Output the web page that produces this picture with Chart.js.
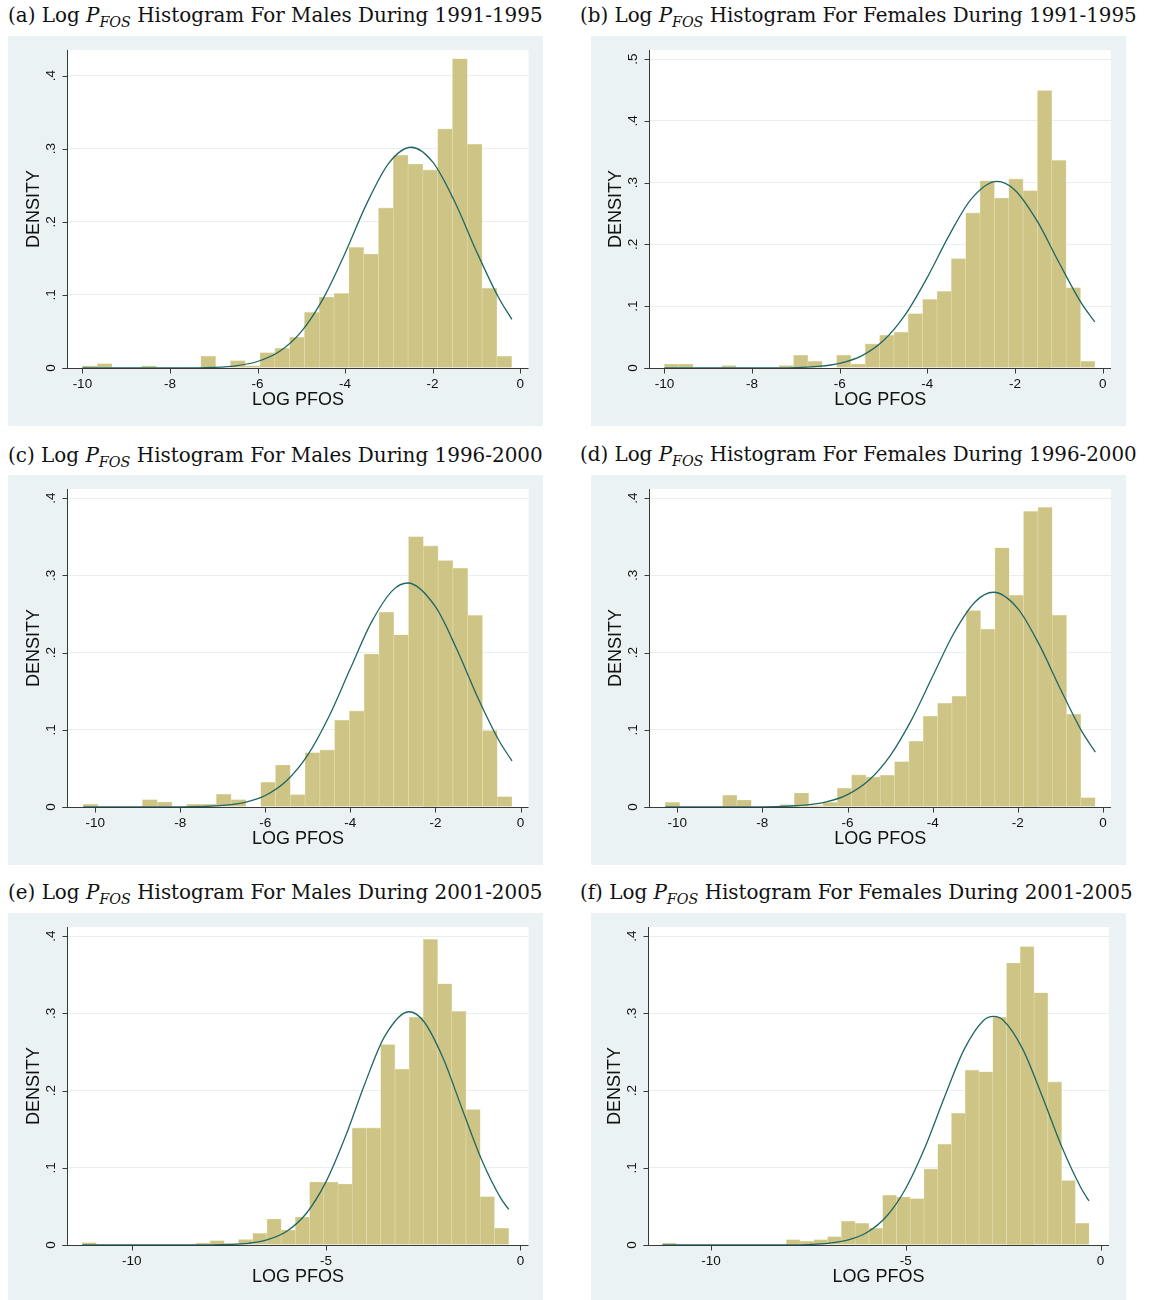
<!DOCTYPE html>
<html>
<head>
<meta charset="utf-8">
<script src="https://cdn.jsdelivr.net/npm/chart.js@4.4.1/dist/chart.umd.min.js"></script>
<style>
  body { margin: 0; background: #ffffff; width: 1152px; height: 1300px; position: relative; overflow: hidden; }
  .title { position: absolute; font-family: "DejaVu Serif", serif; font-size: 17px; line-height: 20px; white-space: nowrap; color: #111; }
  .title i { font-style: italic; }
  .title sub { font-size: 0.72em; font-style: italic; vertical-align: -0.35em; line-height: 0; }
  .panel { position: absolute; width: 535px; height: 390px; background: #eaf2f3; overflow: hidden; }
  .panel canvas { display: block; }
</style>
</head>
<body>
<script>
// ---- Histogram densities (bin heights, left to right) ----
const males9195 = [0.003, 0.006, 0, 0, 0.003, 0, 0, 0, 0.016, 0, 0.010, 0.003, 0.021, 0.027, 0.042,
  0.076, 0.097, 0.102, 0.165, 0.156, 0.219, 0.291, 0.279, 0.271, 0.327, 0.423, 0.306, 0.109, 0.016];
const females9195 = [0.0065, 0.0065, 0, 0, 0.004, 0, 0, 0, 0.004, 0.0205, 0.011, 0, 0.0205, 0.0065, 0.039,
  0.053, 0.058, 0.088, 0.111, 0.124, 0.177, 0.251, 0.303, 0.275, 0.306, 0.287, 0.449, 0.336, 0.130, 0.011];
const males9600 = [0.0035, 0, 0, 0, 0.0095, 0.0065, 0, 0.0035, 0.0035, 0.0164, 0.0095, 0, 0.032, 0.0544, 0.016,
  0.0704, 0.0739, 0.1123, 0.1244, 0.198, 0.252, 0.223, 0.350, 0.338, 0.319, 0.309, 0.248, 0.099, 0.0134];
const females9600 = [0.006, 0, 0, 0, 0.0151, 0.0091, 0, 0, 0.003, 0.0181, 0.002, 0.006, 0.0242, 0.0415, 0.039,
  0.041, 0.0587, 0.085, 0.1175, 0.1343, 0.1434, 0.2544, 0.2302, 0.3356, 0.2743, 0.3827, 0.3879, 0.2484, 0.1201, 0.0121];
const males0105 = [0.003, 0, 0, 0, 0, 0, 0, 0, 0.0026, 0.0056, 0.002, 0.007, 0.015, 0.0337, 0.0194,
  0.0363, 0.0816, 0.0816, 0.079, 0.1516, 0.1516, 0.2596, 0.2276, 0.295, 0.3957, 0.3382, 0.3024, 0.1754, 0.0626, 0.0216];
const females0105 = [0.0026, 0, 0, 0, 0, 0, 0, 0, 0, 0.0069, 0.0048, 0.0069, 0.0108, 0.0307, 0.0281, 0.0216,
  0.0644, 0.0622, 0.06, 0.0985, 0.1305, 0.1706, 0.2263, 0.2242, 0.295, 0.365, 0.3862, 0.3266, 0.2112, 0.0834, 0.0281];

// ---- Range of log PFOS covered by each histogram [first bin start, last bin end] ----
const binRange9195m = [-10.0, -0.193];
const binRange9195f = [-10.0, -0.178];
const binRange9600m = [-10.278, -0.199];
const binRange9600f = [-10.278, -0.183];
const binRange0105m = [-11.274, -0.304];
const binRange0105f = [-11.249, -0.295];

// ---- Fitted normal density, sampled along log PFOS ----
const normX9195m = [-10, -9, -8, -7, -6.5, -6, -5.5, -5, -4.5, -4, -3.5, -3, -2.49, -2, -1.5, -1, -0.5, -0.19];
const normY9195m = [0, 0, 0.00005, 0.0009, 0.003, 0.0089, 0.0225, 0.0497, 0.0949, 0.1571, 0.2255, 0.2803, 0.302, 0.2819, 0.2281, 0.1598, 0.0971, 0.0664];
const normX9195f = [-10, -9, -8, -7, -6.5, -6, -5.5, -5, -4.5, -4, -3.5, -3, -2.41, -2, -1.5, -1, -0.5, -0.18];
const normY9195f = [0, 0, 0.00004, 0.0007, 0.0025, 0.0076, 0.0197, 0.0444, 0.0867, 0.1467, 0.2151, 0.2734, 0.302, 0.2878, 0.2384, 0.1711, 0.1065, 0.0745];
const normX9600m = [-10.28, -9, -8, -7, -6.5, -6, -5.5, -5, -4.5, -4, -3.5, -3, -2.65, -2, -1.5, -1, -0.5, -0.2];
const normY9600m = [0, 0.00001, 0.00015, 0.002, 0.0058, 0.0149, 0.0339, 0.0674, 0.1174, 0.1792, 0.2396, 0.2808, 0.290, 0.2593, 0.2045, 0.1412, 0.0855, 0.0596];
const normX9600f = [-10.28, -9, -8, -7, -6.5, -6, -5.5, -5, -4.5, -4, -3.5, -3, -2.57, -2, -1.5, -1, -0.5, -0.18];
const normY9600f = [0, 0.00001, 0.00022, 0.0024, 0.0065, 0.016, 0.0346, 0.0663, 0.1125, 0.1692, 0.2253, 0.2658, 0.278, 0.2569, 0.2105, 0.1528, 0.0982, 0.071];
const normX0105m = [-11.27, -10, -9, -8, -7.5, -7, -6.5, -6, -5.5, -5, -4.5, -4, -3.5, -2.87, -2.5, -2, -1.5, -1, -0.5, -0.3];
const normY0105m = [0, 0, 0.00001, 0.00016, 0.00064, 0.0022, 0.0069, 0.0181, 0.0414, 0.082, 0.1407, 0.2092, 0.2694, 0.302, 0.2903, 0.243, 0.1761, 0.1105, 0.0601, 0.0460];
const normX0105f = [-11.25, -10, -9, -8, -7.5, -7, -6.5, -6, -5.5, -5, -4.5, -4, -3.5, -3, -2.75, -2.5, -2, -1.5, -1, -0.5, -0.3];
const normY0105f = [0, 0, 0.00001, 0.00015, 0.0006, 0.0021, 0.0062, 0.0162, 0.0369, 0.0735, 0.1274, 0.1926, 0.2536, 0.291, 0.296, 0.291, 0.2536, 0.1926, 0.1274, 0.0735, 0.0572];

// ---- Axis ticks ----
const xTicksBy2 = [-10, -8, -6, -4, -2, 0];
const xTicksBy5 = [-10, -5, 0];
const yTicksTo4 = [0, 0.1, 0.2, 0.3, 0.4];
const yTicksTo5 = [0, 0.1, 0.2, 0.3, 0.4, 0.5];

// ---- Panel text ----
const panelLetters = ['a', 'b', 'c', 'd', 'e', 'f'];
const panelSex = ['Males', 'Females', 'Males', 'Females', 'Males', 'Females'];
const panelPeriods = ['1991-1995', '1991-1995', '1996-2000', '1996-2000', '2001-2005', '2001-2005'];
const xAxisTitle = 'LOG PFOS';
const yAxisTitle = 'DENSITY';

// ---- Page layout ----
const layout = [
  { box: [8, 36],   title: [8, 6, 535],    plot: [59.5, 520.5], x: [-10.34, 0.19],  yMax: 0.435 },
  { box: [591, 36], title: [580, 6, 557],  plot: [58.5, 520],   x: [-10.34, 0.19],  yMax: 0.5146 },
  { box: [8, 475],  title: [8, 445, 535],  plot: [59.5, 520.5], x: [-10.65, 0.188], yMax: 0.4117 },
  { box: [591, 475],title: [580, 445, 557],plot: [58.5, 520],   x: [-10.65, 0.188], yMax: 0.4117 },
  { box: [8, 913],  title: [8, 883, 535],  plot: [59.5, 520.5], x: [-11.65, 0.206], yMax: 0.4117 },
  { box: [591, 913],title: [580, 883, 553],plot: [57, 518],     x: [-11.62, 0.215], yMax: 0.4117 }
];
const PLOT_TOP = 14, PLOT_BOTTOM = 332, BOX_W = 535, BOX_H = 390;

const series = [
  { h: males9195,   r: binRange9195m, nx: normX9195m, ny: normY9195m, xt: xTicksBy2, yt: yTicksTo4 },
  { h: females9195, r: binRange9195f, nx: normX9195f, ny: normY9195f, xt: xTicksBy2, yt: yTicksTo5 },
  { h: males9600,   r: binRange9600m, nx: normX9600m, ny: normY9600m, xt: xTicksBy2, yt: yTicksTo4 },
  { h: females9600, r: binRange9600f, nx: normX9600f, ny: normY9600f, xt: xTicksBy2, yt: yTicksTo4 },
  { h: males0105,   r: binRange0105m, nx: normX0105m, ny: normY0105m, xt: xTicksBy5, yt: yTicksTo4 },
  { h: females0105, r: binRange0105f, nx: normX0105f, ny: normY0105f, xt: xTicksBy5, yt: yTicksTo4 }
];

const BAR_FILL = '#cdc486';
const BAR_EDGE = '#e4e0b0';
const CURVE = '#1f6764';
const GRID = '#e7eff1';
const AXIS = '#3a3a3a';
const SANS = '"Liberation Sans", Arial, sans-serif';

// White plot region behind the marks
const plotBackground = {
  id: 'plotBackground',
  beforeDraw(chart) {
    const { ctx, chartArea: a } = chart;
    ctx.save();
    ctx.fillStyle = '#ffffff';
    ctx.fillRect(a.left, a.top, a.right - a.left, a.bottom - a.top);
    ctx.restore();
  }
};

// Axis lines, outward tick marks, rotated y labels and axis titles
const stataAxes = {
  id: 'stataAxes',
  afterDatasetsDraw(chart) {
    const { ctx, chartArea: a, scales: { x, y } } = chart;
    const L = Math.floor(a.left) + 0.5;
    const B = Math.round(a.bottom) + 0.5;
    ctx.save();
    ctx.strokeStyle = AXIS;
    ctx.lineWidth = 1;
    ctx.beginPath();
    ctx.moveTo(L, a.top); ctx.lineTo(L, B);
    ctx.moveTo(L - 5, B); ctx.lineTo(a.right, B);
    y.ticks.forEach(t => {
      const py = Math.round(y.getPixelForValue(t.value)) + 0.5;
      ctx.moveTo(L - 5, py); ctx.lineTo(L, py);
    });
    x.ticks.forEach(t => {
      const px = Math.round(x.getPixelForValue(t.value)) + 0.5;
      ctx.moveTo(px, B); ctx.lineTo(px, B + 5);
    });
    ctx.stroke();

    ctx.fillStyle = '#111';
    ctx.font = '13.5px ' + SANS;
    ctx.textAlign = 'center';
    ctx.textBaseline = 'middle';
    x.ticks.forEach(t => {
      ctx.fillText(String(t.value), x.getPixelForValue(t.value), B + 15.5);
    });
    y.ticks.forEach(t => {
      const label = t.value === 0 ? '0' : String(t.value).replace(/^0/, '');
      ctx.save();
      ctx.translate(L - 16, y.getPixelForValue(t.value));
      ctx.rotate(-Math.PI / 2);
      ctx.fillText(label, 0, 0);
      ctx.restore();
    });

    ctx.font = '18px ' + SANS;
    ctx.fillText(xAxisTitle, (a.left + a.right) / 2, B + 31.5);
    ctx.save();
    ctx.translate(L - 33.5, (a.top + a.bottom) / 2);
    ctx.rotate(-Math.PI / 2);
    ctx.fillText(yAxisTitle, 0, 0);
    ctx.restore();
    ctx.restore();
  }
};

series.forEach((s, k) => {
  const lay = layout[k];

  const title = document.createElement('div');
  title.className = 'title';
  title.style.left = lay.title[0] + 'px';
  title.style.top = lay.title[1] + 'px';
  title.innerHTML = '(' + panelLetters[k] + ') Log <i>P</i><sub>FOS</sub> Histogram For ' +
    panelSex[k] + ' During ' + panelPeriods[k];
  document.body.appendChild(title);
  // fit the heading to its column width
  const w = title.getBoundingClientRect().width;
  title.style.fontSize = (17 * lay.title[2] / w).toFixed(2) + 'px';

  const box = document.createElement('div');
  box.className = 'panel';
  box.style.left = lay.box[0] + 'px';
  box.style.top = lay.box[1] + 'px';
  const canvas = document.createElement('canvas');
  canvas.width = BOX_W; canvas.height = BOX_H;
  box.appendChild(canvas);
  document.body.appendChild(box);

  const binW = (s.r[1] - s.r[0]) / s.h.length;
  const bars = s.h.map((v, i) => ({ x: s.r[0] + (i + 0.5) * binW, y: v }));
  const curve = s.nx.map((v, i) => ({ x: v, y: s.ny[i] }));

  new Chart(canvas, {
    type: 'bar',
    data: {
      datasets: [
        {
          type: 'line', data: curve, order: 0,
          borderColor: CURVE, borderWidth: 1.3, pointRadius: 0,
          cubicInterpolationMode: 'monotone', fill: false
        },
        {
          type: 'bar', data: bars, order: 1,
          backgroundColor: BAR_FILL, borderColor: BAR_EDGE, borderWidth: 0.6,
          barPercentage: 1, categoryPercentage: 1, grouped: false
        }
      ]
    },
    options: {
      responsive: false, animation: false, devicePixelRatio: 1,
      layout: { padding: { top: PLOT_TOP, right: BOX_W - lay.plot[1], left: 0, bottom: 0 } },
      plugins: { legend: { display: false }, tooltip: { enabled: false } },
      scales: {
        x: {
          type: 'linear', min: lay.x[0], max: lay.x[1], offset: false,
          grid: { display: false, drawTicks: false }, border: { display: false },
          ticks: { display: false },
          afterBuildTicks: sc => { sc.ticks = s.xt.map(v => ({ value: v })); },
          afterFit: sc => { sc.height = BOX_H - PLOT_BOTTOM; }
        },
        y: {
          type: 'linear', min: 0, max: lay.yMax,
          grid: { color: GRID, lineWidth: 1, drawTicks: false }, border: { display: false },
          ticks: { display: false },
          afterBuildTicks: sc => { sc.ticks = s.yt.map(v => ({ value: v })); },
          afterFit: sc => { sc.width = lay.plot[0]; }
        }
      }
    },
    plugins: [plotBackground, stataAxes]
  });
});
</script>
</body>
</html>
